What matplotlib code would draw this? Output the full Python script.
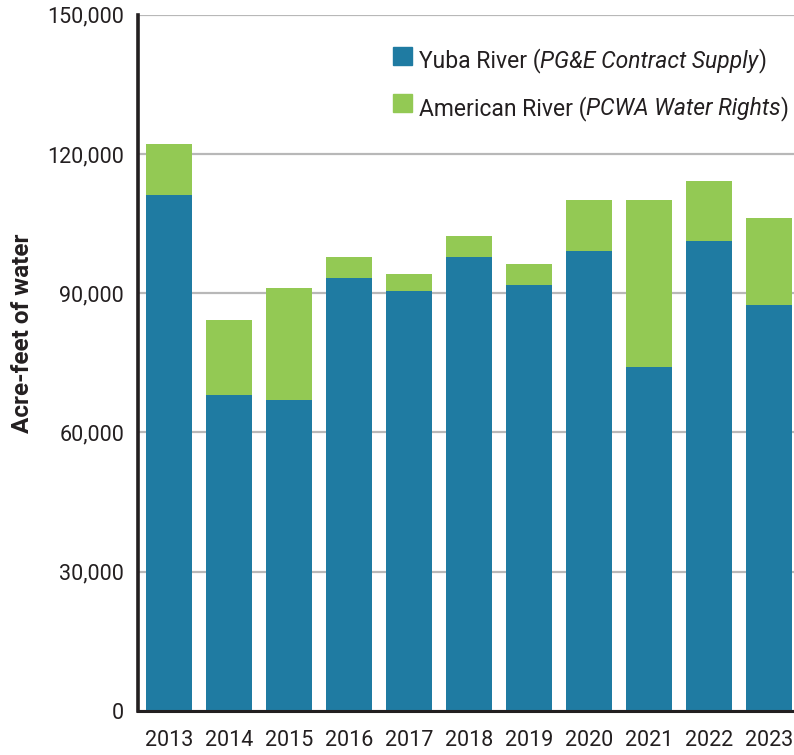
import numpy as np
import matplotlib
matplotlib.use("Agg")
from matplotlib import pyplot as plt
from matplotlib.patches import Rectangle

# Suministro de agua por año (acre-feet)
anios = ["2013", "2014", "2015", "2016", "2017", "2018", "2019", "2020", "2021", "2022", "2023"]
yuba = [111200, 68100, 67000, 93300, 90500, 97800, 91800, 99200, 74200, 101300, 87500]
american = [10900, 16100, 24100, 4500, 3600, 4500, 4500, 10900, 35900, 12900, 18700]

ticks_y = [0, 30000, 60000, 90000, 120000, 150000]

# leyenda: parte normal, parte en cursiva
leyenda = [("Yuba River (", "PG&E Contract Supply"),
           ("American River (", "PCWA Water Rights")]

azul = "#1f7ba2"
verde = "#93c954"
texto = "#231f20"

plt.rcParams["font.family"] = ["Roboto", "DejaVu Sans"]

fig = plt.figure(figsize=(7.94, 7.55), dpi=100)
ax = fig.add_axes([0.1738, 0.0583, 0.8262, 0.9222])

x = np.arange(len(anios))
ax.bar(x, yuba, width=0.767, color=azul, zorder=3)
ax.bar(x, american, width=0.767, bottom=yuba, color=verde, zorder=3)

ax.set_xlim(-0.52, 10.42)
ax.set_ylim(0, 150000)
ax.set_yticks(ticks_y)
ax.set_yticklabels([f"{v:,}" for v in ticks_y])
ax.set_xticks(x)
ax.set_xticklabels(anios)
ax.tick_params(axis="both", length=0, labelsize=15.5, colors=texto)
ax.tick_params(axis="y", pad=10)
ax.tick_params(axis="x", pad=14)

ax.grid(axis="y", color="#b8b8b8", linewidth=1.6, zorder=0)
for s in ["top", "right"]:
    ax.spines[s].set_visible(False)
ax.spines["left"].set_linewidth(2.6)
ax.spines["left"].set_color(texto)
ax.spines["bottom"].set_linewidth(2.2)
ax.spines["bottom"].set_color(texto)
ax.spines["left"].set_zorder(4)
ax.spines["bottom"].set_zorder(4)

ax.set_ylabel("Acre-feet of water", fontsize=17.5, fontweight="bold", color=texto)
ax.yaxis.set_label_coords(-0.158, 0.543)

# leyenda hecha a mano para mezclar texto normal y cursiva
filas_y = [0.924, 0.856]
for (normal, cursiva), color, yb in zip(leyenda, [azul, verde], filas_y):
    ax.add_patch(Rectangle((0.3887, yb + 0.004), 0.029, 0.026, transform=ax.transAxes,
                           color=color, clip_on=False, zorder=5))
    t1 = ax.text(0.428, yb, normal, transform=ax.transAxes, fontsize=16.5,
                 color=texto, va="baseline", ha="left")
    t2 = ax.annotate(cursiva, xy=(1, yb), xycoords=(t1, "axes fraction"),
                     fontsize=16.5, style="italic", color=texto, va="baseline", ha="left")
    ax.annotate(")", xy=(1, yb), xycoords=(t2, "axes fraction"),
                fontsize=16.5, color=texto, va="baseline", ha="left")

fig.savefig("out.png", dpi=100)
